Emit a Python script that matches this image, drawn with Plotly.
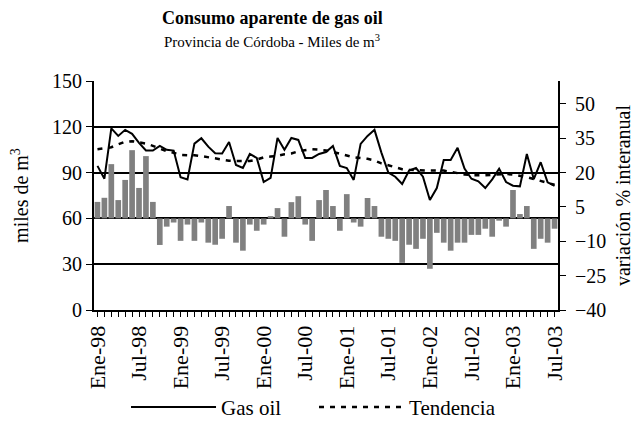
import plotly.graph_objects as go

# ---- data ----
month_names = ["Ene", "Feb", "Mar", "Abr", "May", "Jun", "Jul", "Ago", "Sep", "Oct", "Nov", "Dic"]
years = ["98", "99", "00", "01", "02", "03"]
categories = [f"{m}-{y}" for y in years for m in month_names][:67]  # Ene-98 .. Jul-03

gas_oil = [94.4, 86.0, 119.0, 114.0, 118.0, 115.4, 109.5, 104.5, 104.5, 107.5, 104.9, 104.4,
           87.0, 85.5, 109.0, 112.5, 107.0, 102.7, 102.5, 110.0, 95.0, 93.0, 102.2, 99.6,
           83.8, 86.5, 112.7, 104.9, 112.7, 111.4, 99.6, 99.6, 102.2, 103.5, 107.5, 94.4,
           93.0, 85.2, 108.8, 114.0, 118.0, 103.1, 90.0, 87.3, 82.5, 91.3, 93.0, 87.3,
           72.0, 79.9, 98.3, 98.3, 106.2, 92.6, 86.0, 84.3, 79.9, 85.6, 92.6, 83.8,
           81.4, 81.0, 102.2, 85.8, 96.8, 83.6, 81.4]

tendencia = [105.3, 105.8, 106.6, 108.5, 110.2, 110.6, 110.0, 109.0, 107.5, 105.5, 104.0, 103.0,
             101.6, 101.4, 101.4, 100.8, 100.1, 99.0, 98.4, 97.8, 97.6, 97.6, 97.6, 98.5,
             100.0, 100.5, 101.0, 102.0, 102.5, 104.0, 104.6, 105.3, 105.0, 104.5, 103.5, 102.3,
             101.0, 100.1, 99.5, 99.0, 98.0, 96.0, 94.8, 93.5, 92.2, 91.8, 91.5, 91.3,
             91.3, 91.3, 91.3, 90.5, 89.5, 88.8, 88.3, 88.2, 88.3, 88.5, 88.8, 89.1,
             88.7, 88.0, 87.0, 85.8, 84.5, 83.0, 82.0]

variacion = [7.2, 9.0, 23.7, 8.0, 16.8, 29.8, 13.3, 27.2, 7.2, -11.6, -3.6, -1.8,
             -9.8, -2.7, -9.8, -1.8, -10.6, -11.5, -8.9, 5.4, -10.6, -14.1, -2.7, -5.4,
             -2.7, 1.0, 4.5, -8.0, 7.1, 9.7, -2.7, -9.8, 8.0, 12.4, 5.4, -5.4,
             10.6, -1.8, -3.6, 8.9, 5.4, -8.0, -8.9, -9.8, -19.4, -11.5, -13.3, -8.9,
             -22.0, -6.3, -10.6, -14.1, -10.6, -10.6, -7.2, -7.2, -4.5, -8.0, -1.0, -3.6,
             12.4, 1.9, 5.4, -13.3, -8.9, -10.6, -4.5]

x_idx = list(range(len(categories)))
tick_text = [c if i % 6 == 0 else "" for i, c in enumerate(categories)]

FONT = "Liberation Serif, Times New Roman, serif"


def f(size):
    return dict(family=FONT, size=size, color="black")


fig = go.Figure()

fig.add_trace(go.Bar(
    x=x_idx, y=variacion, yaxis="y", name="Variación",
    marker=dict(color="#808080", line=dict(width=0)),
    showlegend=False,
))
fig.add_trace(go.Scatter(
    x=x_idx, y=gas_oil, yaxis="y2", name="Gas oil", mode="lines",
    line=dict(color="black", width=2),
))
fig.add_trace(go.Scatter(
    x=x_idx, y=tendencia, yaxis="y2", name="Tendencia", mode="lines",
    line=dict(color="black", width=2.5, dash="5px,6px"),
))

# the page body has an 8px margin, so the figure is shifted up/left by 8px
fig.update_layout(
    template="none",
    width=640, height=421,
    margin=dict(l=86, r=90, t=73, b=119, autoexpand=False),
    paper_bgcolor="white", plot_bgcolor="white",
    font=f(21),
    bargap=0.18,
    showlegend=True,
    legend=dict(orientation="h", x=0.069, xanchor="left", y=-0.425, yanchor="middle",
                font=f(21), itemwidth=85, entrywidth=88, tracegroupgap=0,
                bgcolor="rgba(0,0,0,0)"),
    xaxis=dict(
        automargin=False,
        range=[-0.5, 66.5], tickmode="array", tickvals=x_idx, ticktext=tick_text,
        tickangle=-90, ticks="outside", ticklen=5, tickwidth=1, tickcolor="black",
        showline=True, linecolor="black", linewidth=2, showgrid=False, zeroline=False,
        tickfont=f(22),
    ),
    yaxis=dict(
        automargin=False,
        side="right", range=[-40, 60], tick0=-40, dtick=15,
        ticks="outside", ticklen=6, tickcolor="black", ticklabelstandoff=5,
        showline=True, linecolor="black", linewidth=2,
        showgrid=False, zeroline=False,
        title=dict(text="variación % interanual", font=f(20), standoff=11),
        tickfont=f(20),
    ),
    yaxis2=dict(
        automargin=False,
        overlaying="y", side="left", range=[0, 150], dtick=30,
        ticks="outside", ticklen=6, tickcolor="black",
        showline=True, linecolor="black", linewidth=2,
        showgrid=True, gridcolor="black", gridwidth=1.5, zeroline=False,
        title=dict(text="miles de m<sup>3</sup>", font=f(20), standoff=26),
        tickfont=f(20),
    ),
    annotations=[
        dict(text="<b>Consumo aparente de gas oil</b>", xref="paper", yref="paper",
             x=0.384, y=1.275, xanchor="center", yanchor="middle", showarrow=False,
             font=f(18)),
        dict(text="Provincia de Córdoba - Miles de m<sup>3</sup>", xref="paper", yref="paper",
             x=0.384, y=1.175, xanchor="center", yanchor="middle", showarrow=False,
             font=f(15)),
    ],
)

fig.write_html("out.html")
